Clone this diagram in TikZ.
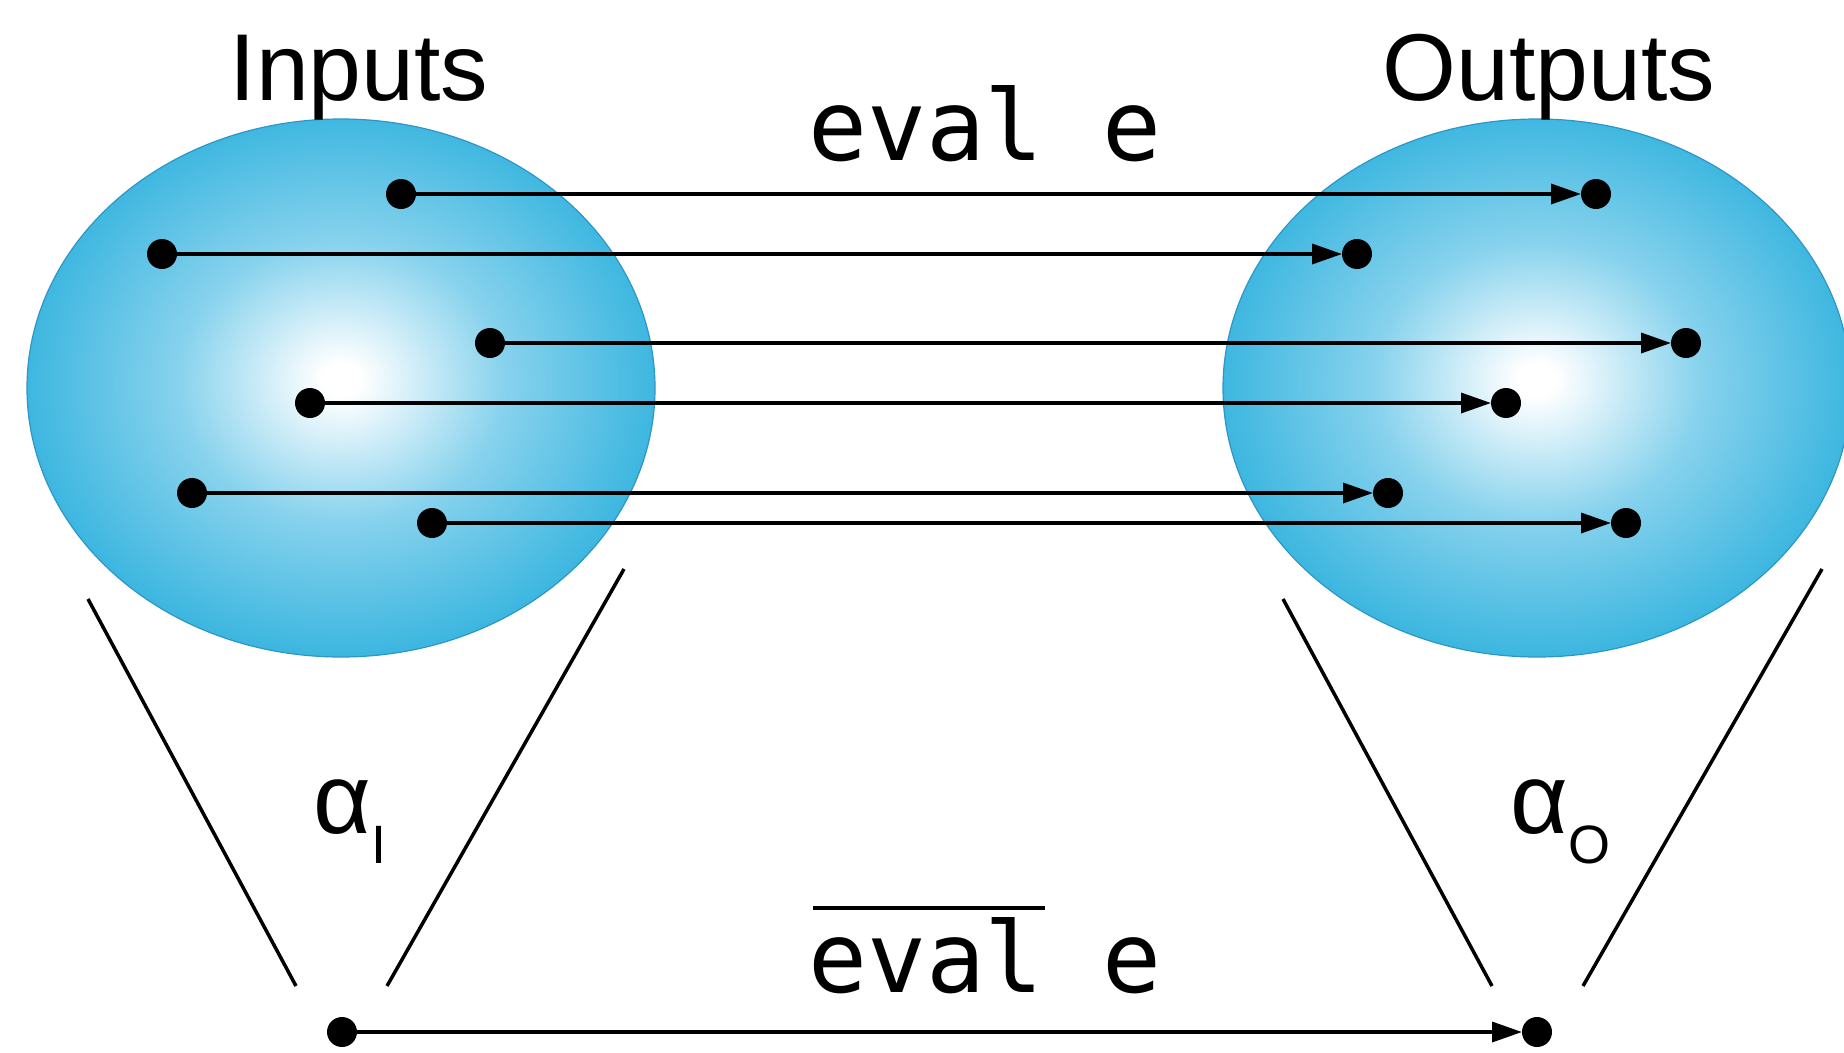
\documentclass[tikz,border=0pt]{standalone}
\usepackage{fontspec}
\setmainfont{Liberation Sans}
\newfontfamily\mono{DejaVu Sans Mono}
\usetikzlibrary{arrows.meta}
\definecolor{ballout}{RGB}{62,183,224}
\definecolor{ballmid}{RGB}{135,210,237}
\definecolor{balledge}{RGB}{45,150,200}
\pgfdeclareradialshading{ballshade}{\pgfpoint{0bp}{0.8bp}}{color(0bp)=(white); color(1.5bp)=(white); color(13bp)=(ballmid); color(25bp)=(ballout); color(50bp)=(ballout)}
\begin{document}
\begin{tikzpicture}[x=1pt,y=-1pt,
  dot/.style={circle,fill=black,minimum size=30pt,inner sep=0pt,outer sep=0pt},
  arr/.style={line width=3.5pt,-{Triangle[length=30pt,width=20pt]}},
  cone/.style={line width=3.5pt},
  ball/.style={shading=ballshade,draw=balledge,line width=1.2pt},
  big/.style={font=\fontsize{95}{110}\selectfont,inner sep=0pt},
  code/.style={font=\mono\fontsize{98}{113}\selectfont,inner sep=0pt},
  greek/.style={font=\fontsize{100}{115}\selectfont,inner sep=0pt}]
\useasboundingbox (0,0) rectangle (1844,1052);
% sets
\shade[ball] (341,388) ellipse [x radius=314pt, y radius=269pt];
\shade[ball] (1537,388) ellipse [x radius=314pt, y radius=269pt];
% titles
\node[big,anchor=base] (inputs) at (359,100) {Inputs};
\node[big,anchor=base] (outputs) at (1549,100) {Outputs};
\node[code,anchor=base] (evaltop) at (985,160) {eval e};
\node[code,anchor=base] (evalbot) at (985,992) {\rlap{\hspace*{4.5pt}\rule[82pt]{232pt}{4pt}}eval e};
% dots
\node[dot] (i1) at (401,194) {};
\node[dot] (i2) at (162,254) {};
\node[dot] (i3) at (490,343) {};
\node[dot] (i4) at (310,403) {};
\node[dot] (i5) at (192,493) {};
\node[dot] (i6) at (432,523) {};
\node[dot] (o1) at (1596,194) {};
\node[dot] (o2) at (1357,254) {};
\node[dot] (o3) at (1686,343) {};
\node[dot] (o4) at (1506,403) {};
\node[dot] (o5) at (1388,493) {};
\node[dot] (o6) at (1626,523) {};
\node[dot] (ai) at (342,1032) {};
\node[dot] (ao) at (1537,1032) {};
% arrows
\draw[arr] (i1) -- (o1);
\draw[arr] (i2) -- (o2);
\draw[arr] (i3) -- (o3);
\draw[arr] (i4) -- (o4);
\draw[arr] (i5) -- (o5);
\draw[arr] (i6) -- (o6);
\draw[arr] (ai) -- (ao);
% cones
\coordinate (l1a) at (88,599); \coordinate (l1b) at (296,986);
\coordinate (l2a) at (624,569); \coordinate (l2b) at (387,986);
\coordinate (r1a) at (1283,599); \coordinate (r1b) at (1492,986);
\coordinate (r2a) at (1822,569); \coordinate (r2b) at (1583,986);
\draw[cone] (l1a) -- (l1b);
\draw[cone] (l2a) -- (l2b);
\draw[cone] (r1a) -- (r1b);
\draw[cone] (r2a) -- (r2b);
% abstraction labels
\node[greek,anchor=base west] (alphaI) at (313,833) {α\raisebox{-30pt}{\fontsize{54}{60}\selectfont I}};
\node[greek,anchor=base west] (alphaO) at (1510,833) {α\raisebox{-30pt}{\fontsize{54}{60}\selectfont O}};
\end{tikzpicture}
\end{document}
